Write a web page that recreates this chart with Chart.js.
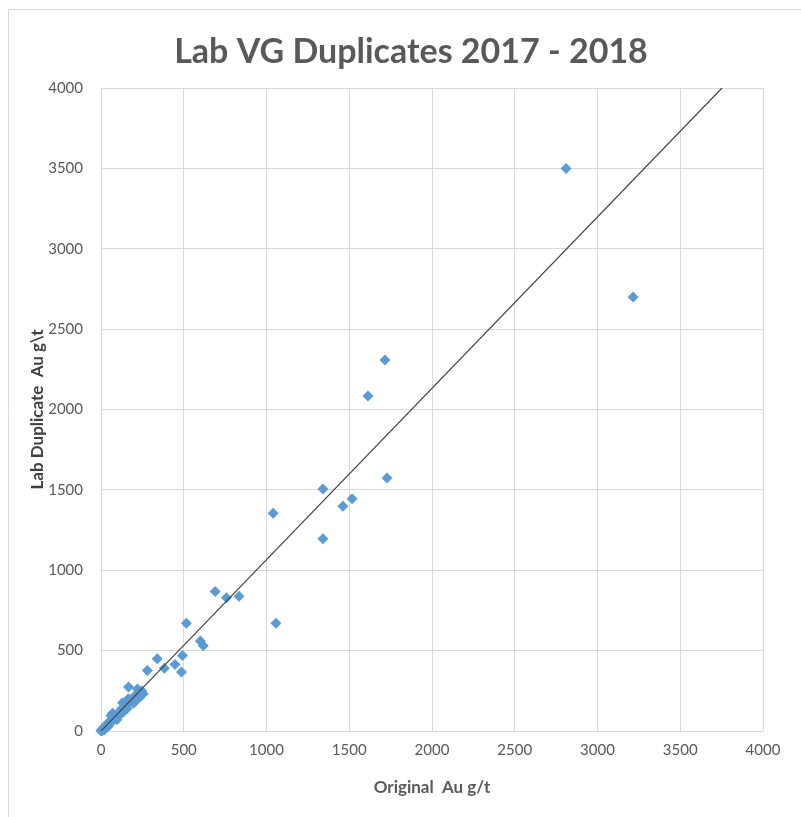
<!DOCTYPE html>
<html lang="en">
<head>
    <meta charset="UTF-8">
    <title>Lab VG Duplicates 2017 - 2018</title>
    <script src="https://cdn.jsdelivr.net/npm/chart.js"></script>
    <style>
        body {
            margin: 0;
            padding: 0;
            background: #fff;
        }

        .chart-container {
            width: 801px;
            height: 817px;
        }
    </style>
</head>
<body>

    <div class="chart-container">
        <canvas id="dupChart" width="801" height="817"></canvas>
    </div>

    <script>
        // values (g/t)
        const originalAu = [
            2810, 3215, 1716, 1613, 1728, 1341, 1517, 1462, 1341, 1040, 1057,
            690, 758, 834, 516, 600, 618, 492, 486, 340, 383, 447, 280, 166,
            0, 2, 5, 8, 10, 14, 18, 22, 26, 30, 35, 40, 45, 50, 55, 60, 66, 72,
            78, 85, 92, 100, 110, 118, 126, 135, 142, 150, 158, 165, 172, 180,
            188, 196, 205, 212, 220, 228, 236, 245, 255, 130, 70, 20, 44, 96
        ];
        const labDupAu = [
            3500, 2700, 2308, 2084, 1574, 1505, 1445, 1398, 1196, 1355, 670,
            868, 829, 838, 670, 560, 531, 470, 367, 449, 390, 413, 376, 274,
            0, 4, 2, 12, 6, 18, 12, 28, 20, 34, 30, 46, 40, 58, 48, 95, 62, 100,
            72, 88, 84, 96, 120, 104, 140, 118, 150, 165, 140, 200, 180, 188,
            200, 172, 220, 190, 262, 240, 212, 250, 232, 176, 110, 8, 30, 70
        ];
        // 1:1-ish trend line
        const trendX = [0, 3752];
        const trendY = [0, 4000];

        const axisTicks = [0, 500, 1000, 1500, 2000, 2500, 3000, 3500, 4000];

        const points = originalAu.map((x, i) => ({ x: x, y: labDupAu[i] }));
        const trend = trendX.map((x, i) => ({ x: x, y: trendY[i] }));

        const frameAndTitle = {
            id: 'frameAndTitle',
            beforeDraw(chart) {
                const ctx = chart.ctx;
                ctx.save();
                ctx.fillStyle = '#fff';
                ctx.fillRect(0, 0, chart.width, chart.height);
                ctx.strokeStyle = '#d9d9d9';
                ctx.lineWidth = 1;
                ctx.beginPath();
                ctx.moveTo(8.5, chart.height + 5);
                ctx.lineTo(8.5, 9.5);
                ctx.lineTo(chart.width + 5, 9.5);
                ctx.stroke();
                ctx.fillStyle = '#595959';
                ctx.font = 'bold 34px Lato';
                ctx.textAlign = 'center';
                ctx.textBaseline = 'middle';
                ctx.fillText('Lab VG Duplicates 2017 - 2018', 411, 52);
                ctx.restore();
            }
        };

        const gridColor = '#d9d9d9';
        const tickColor = '#595959';

        new Chart(document.getElementById('dupChart'), {
            type: 'scatter',
            data: {
                datasets: [
                    {
                        label: 'Duplicates',
                        data: points,
                        pointStyle: 'rectRot',
                        pointRadius: 5.5,
                        pointBackgroundColor: '#5b9bd5',
                        pointBorderColor: '#5b9bd5',
                        pointBorderWidth: 0,
                        clip: false,
                        order: 2
                    },
                    {
                        label: 'Trend',
                        data: trend,
                        showLine: true,
                        borderColor: '#404040',
                        borderWidth: 1.2,
                        pointRadius: 0,
                        order: 1
                    }
                ]
            },
            options: {
                responsive: false,
                animation: false,
                layout: {
                    padding: { left: 8, right: 38, top: 88, bottom: 0 }
                },
                plugins: {
                    legend: { display: false },
                    title: { display: false },
                    tooltip: { enabled: false }
                },
                scales: {
                    x: {
                        type: 'linear',
                        min: 0,
                        max: 4000,
                        afterBuildTicks: s => { s.ticks = axisTicks.map(v => ({ value: v })); },
                        afterFit: s => { s.height = 86; },
                        grid: { color: gridColor, drawTicks: false },
                        border: { color: gridColor },
                        ticks: {
                            color: tickColor,
                            padding: 10,
                            maxRotation: 0,
                            callback: v => String(v),
                            font: { family: 'Lato', size: 15 }
                        },
                        title: {
                            display: true,
                            text: 'Original  Au g/t',
                            color: tickColor,
                            padding: { top: 0, bottom: 19 },
                            font: { family: 'Lato', size: 17, weight: 'bold' }
                        }
                    },
                    y: {
                        type: 'linear',
                        min: 0,
                        max: 4000,
                        afterBuildTicks: s => { s.ticks = axisTicks.map(v => ({ value: v })); },
                        afterFit: s => { s.width = 93; },
                        grid: { color: gridColor, drawTicks: false },
                        border: { color: gridColor },
                        ticks: {
                            color: tickColor,
                            padding: 18,
                            callback: v => String(v),
                            font: { family: 'Lato', size: 15 }
                        },
                        title: {
                            display: true,
                            text: 'Lab Duplicate  Au g\\t',
                            color: '#404040',
                            padding: { top: 19, bottom: 0 },
                            font: { family: 'Lato', size: 17, weight: 'bold' }
                        }
                    }
                }
            },
            plugins: [frameAndTitle]
        });
    </script>

</body>
</html>
